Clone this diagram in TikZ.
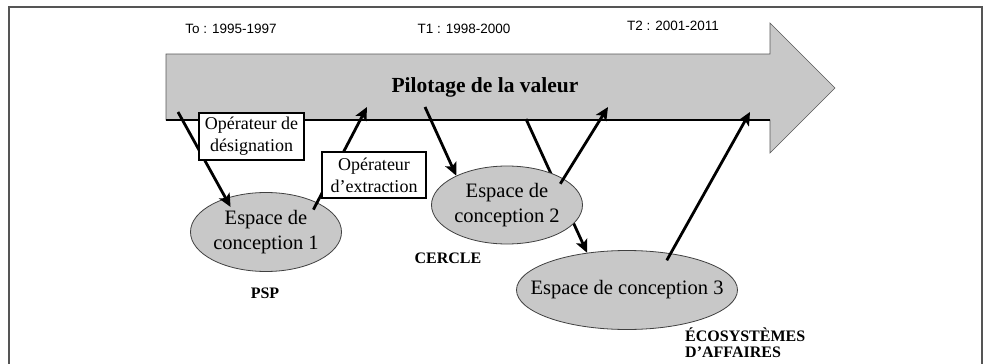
\documentclass[tikz,border=0pt]{standalone}
\usepackage{fontspec}
\setmainfont{Liberation Serif}
\setsansfont{Liberation Sans}
\usetikzlibrary{shapes.geometric,arrows.meta}
\definecolor{fondgris}{RGB}{200,200,200}
\definecolor{cadre}{RGB}{85,85,85}
\tikzset{
  espace/.style={ellipse,draw=black!75,fill=fondgris,line width=0.8pt,inner sep=0pt,
    align=center,font=\fontsize{20.5}{25}\selectfont},
  operateur/.style={draw,line width=1.8pt,fill=white,inner sep=0pt,minimum width=105pt,
    minimum height=47pt,align=center,font=\fontsize{18}{22}\selectfont},
  periode/.style={font=\sffamily\fontsize{13.5}{16}\selectfont},
  acteur/.style={font=\bfseries\fontsize{16}{16}\selectfont,align=left,inner sep=0pt},
  lien/.style={line width=2.8pt,-{Stealth[length=13pt,width=12pt,inset=3pt]}}
}
\begin{document}
\begin{tikzpicture}[x=1pt,y=-1pt]
\useasboundingbox (0,0) rectangle (983,364);
\fill[white] (0,0) rectangle (983,364);
\draw[cadre,line width=1.8pt] (9,364) -- (9,7) -- (982,7) -- (982,364);

\draw[black!65,fill=fondgris,line width=0.6pt] (166,54) -- (770,54) -- (770,23)
  -- (835,88) -- (770,153) -- (770,120) -- (166,120) -- cycle;
\draw[line width=2pt] (166,120) -- (770,120);

\node[periode] (T0) at (231,29) {To : 1995-1997};
\node[periode] (T1) at (464,29) {T1 : 1998-2000};
\node[periode] (T2) at (673,26) {T2 : 2001-2011};
\node[font=\bfseries\fontsize{21.5}{26}\selectfont] (PV) at (485,87) {Pilotage de la valeur};

\coordinate (D0) at (178,112);
\coordinate (X0) at (367,107);
\coordinate (C0) at (425,107);
\coordinate (C1) at (526,119);
\coordinate (C2) at (608,107);
\coordinate (A0) at (750,112);

\node[espace,minimum width=151pt,minimum height=79pt] (E1) at (266,232)
{Espace de\\conception 1};
\node[espace,minimum width=221pt,minimum height=79pt] (E3) at (627,290)
{\makebox[0pt]{Espace de conception 3}};
\draw[lien] (C1) -- (E3.137);
\node[espace,minimum width=151pt,minimum height=78pt] (E2) at (507,205)
{Espace de\\conception 2};

\draw[lien,shorten >=-10pt] (D0) -- (E1.140);
\draw[lien,shorten <=-8pt] (E1.30) -- (X0);
\draw[lien] (C0) -- (E2.150);
\draw[lien,shorten <=-6pt] (E2.25) -- (C2);
\draw[lien,shorten <=-8pt] (E3.40) -- (A0);

\node[operateur] (OD) at (251.5,136.5) {Opérateur de\\désignation};
\node[operateur,minimum width=104pt,minimum height=46pt] (OE) at (374,175)
{Opérateur\\d’extraction};

\node[acteur] (PSP) at (265,293) {PSP};
\node[acteur] (CE) at (448,258) {CERCLE};
\node[acteur,anchor=west] (EA) at (685,343) {ÉCOSYSTÈMES\\D’AFFAIRES};
\end{tikzpicture}
\end{document}
